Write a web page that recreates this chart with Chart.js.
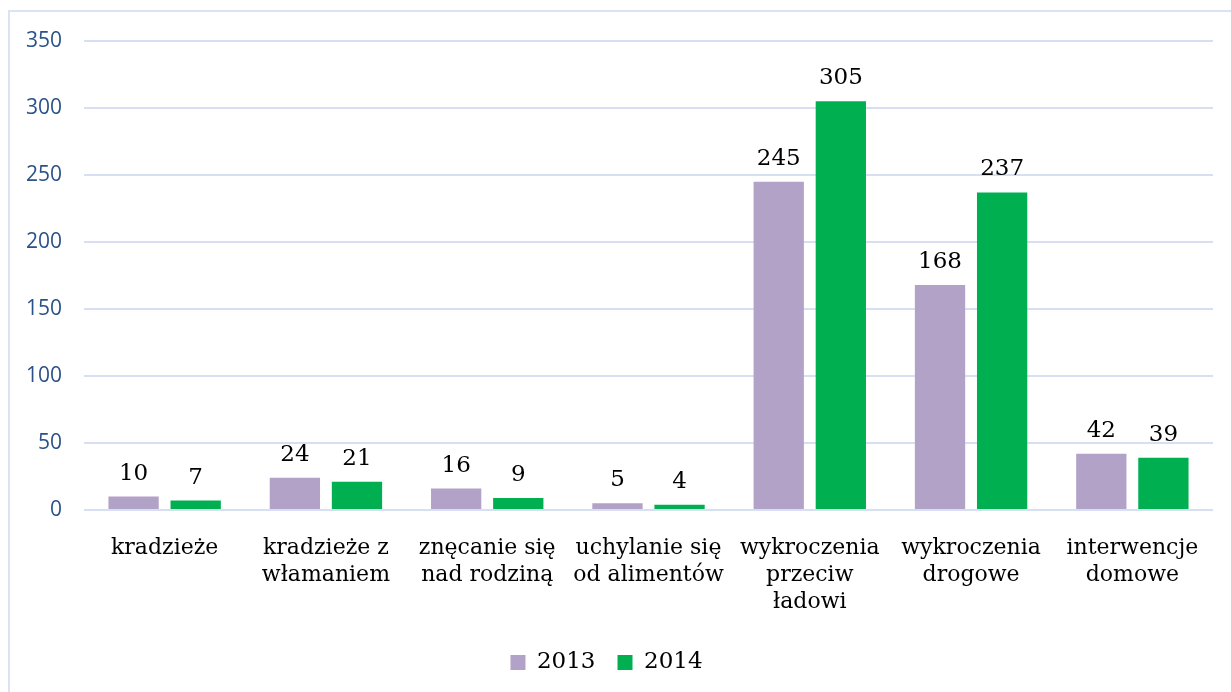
<!DOCTYPE html>
<html>
<head>
<meta charset="utf-8">
<script src="https://cdn.jsdelivr.net/npm/chart.js@4/dist/chart.umd.min.js"></script>
<style>
  html, body { margin: 0; padding: 0; background: #fff; overflow: hidden; }
  #frame {
    position: absolute; left: 8px; top: 10px;
    width: 1400px; height: 900px;
    border-left: 2px solid #dae3f3; border-top: 2px solid #dae3f3;
  }
  #wrap { position: absolute; left: 0; top: 0; width: 1231px; height: 692px; }
</style>
</head>
<body>
<div id="frame"></div>
<div id="wrap"><canvas id="crimeChart"></canvas></div>
<script>
// ===============================
// DATA
// ===============================

const categories = [
  "kradzieże",
  ["kradzieże z", "włamaniem"],
  ["znęcanie się", "nad rodziną"],
  ["uchylanie się", "od alimentów"],
  ["wykroczenia", "przeciw", "ładowi"],
  ["wykroczenia", "drogowe"],
  ["interwencje", "domowe"]
];

const values2013 = [10, 24, 16, 5, 245, 168, 42];
const values2014 = [7, 21, 9, 4, 305, 237, 39];

const yTicks = [0, 50, 100, 150, 200, 250, 300, 350];

const serif = "'DejaVu Serif', serif";

// ===============================
// VALUE LABELS ABOVE BARS
// ===============================

const barValues = {
  id: "barValues",
  afterDatasetsDraw(chart) {
    const ctx = chart.ctx;
    ctx.save();
    ctx.font = "23px " + serif;
    ctx.fillStyle = "#000";
    ctx.textAlign = "center";
    ctx.textBaseline = "alphabetic";
    chart.data.datasets.forEach((ds, i) => {
      chart.getDatasetMeta(i).data.forEach((bar, j) => {
        ctx.fillText(ds.data[j], bar.x, bar.y - 17);
      });
    });
    ctx.restore();
  }
};

// ===============================
// CHART
// ===============================

new Chart(document.getElementById("crimeChart"), {
  type: "bar",
  data: {
    labels: categories,
    datasets: [
      { label: "2013", data: values2013, backgroundColor: "#b3a2c7" },
      { label: "2014", data: values2014, backgroundColor: "#00b050" }
    ]
  },
  options: {
    responsive: true,
    maintainAspectRatio: false,
    animation: false,
    datasets: { bar: { categoryPercentage: 0.77, barPercentage: 0.81 } },
    layout: { padding: { top: 41, right: 18, left: 0, bottom: 8 } },
    plugins: {
      legend: {
        position: "bottom",
        labels: {
          boxWidth: 15, boxHeight: 15, padding: 22,
          color: "#000",
          font: { family: serif, size: 23 }
        }
      },
      tooltip: { enabled: false }
    },
    scales: {
      x: {
        grid: { display: false },
        border: { display: false },
        ticks: {
          color: "#000",
          padding: 17,
          maxRotation: 0,
          autoSkip: false,
          font: { family: serif, size: 22, lineHeight: 1.23 }
        },
        afterFit(scale) { scale.height = 119; }
      },
      y: {
        min: 0, max: 350,
        afterBuildTicks(scale) { scale.ticks = yTicks.map(v => ({ value: v })); },
        afterFit(scale) { scale.width = 84; },
        grid: { color: "#d6e0f2", lineWidth: 2, drawTicks: false },
        border: { display: false },
        ticks: {
          color: "#2b5288",
          padding: 22,
          font: { family: "'Open Sans', sans-serif", size: 21 }
        }
      }
    }
  },
  plugins: [barValues]
});
</script>
</body>
</html>
